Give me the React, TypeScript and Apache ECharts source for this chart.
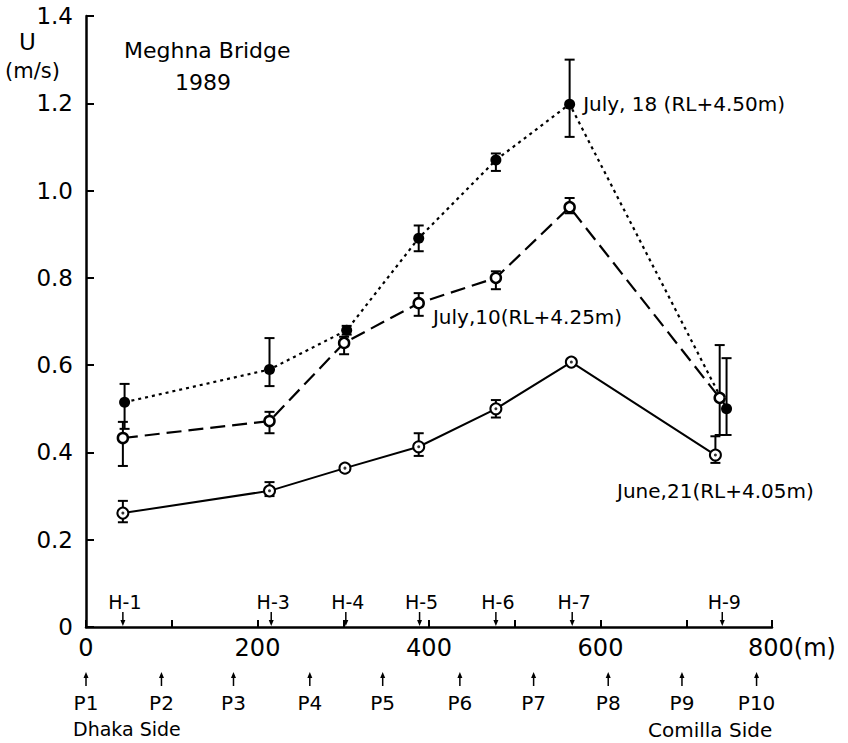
import React, { useEffect, useRef } from "react";
import * as echarts from "echarts";

const FONT = "DejaVu Sans";

// Measuring stations (distance from Dhaka side, m)
const hLabels = ["H-1", "H-3", "H-4", "H-5", "H-6", "H-7", "H-9"];
const hPos = [43, 216, 303, 389, 478, 567, 742];

// Piers
const pLabels = ["P1", "P2", "P3", "P4", "P5", "P6", "P7", "P8", "P9", "P10"];
const pPos = [0, 88, 172, 261, 346, 436, 522, 609, 695, 782];

// July 18 (RL+4.50m)
const x18 = [45, 214, 304, 388, 478, 564, 747];
const u18 = [0.515, 0.59, 0.68, 0.891, 1.07, 1.198, 0.5];
const lo18 = [0.454, 0.552, 0.67, 0.861, 1.045, 1.123, 0.44];
const hi18 = [0.557, 0.662, 0.69, 0.92, 1.085, 1.3, 0.616];

// July 10 (RL+4.25m)
const x10 = [43, 214, 301, 388, 478, 564, 739];
const u10 = [0.433, 0.472, 0.651, 0.742, 0.8, 0.962, 0.525];
const lo10 = [0.369, 0.444, 0.625, 0.713, 0.774, 0.948, 0.44];
const hi10 = [0.47, 0.493, 0.665, 0.765, 0.815, 0.983, 0.646];

// June 21 (RL+4.05m)
const x21 = [43, 214, 302, 388, 478, 566, 734];
const u21 = [0.261, 0.312, 0.364, 0.413, 0.5, 0.607, 0.394];
const lo21 = [0.24, 0.3, null, 0.392, 0.48, null, 0.376];
const hi21 = [0.289, 0.332, null, 0.444, 0.52, null, 0.437];

const label18 = "July, 18 (RL+4.50m)";
const label10 = "July,10(RL+4.25m)";
const label21 = "June,21(RL+4.05m)";

function pairs(xs: number[], ys: number[]) {
  return xs.map((x, i) => [x, ys[i]]);
}

function errData(xs: number[], lo: (number | null)[], hi: (number | null)[]) {
  const out: number[][] = [];
  xs.forEach((x, i) => {
    if (lo[i] != null && hi[i] != null) out.push([x, lo[i] as number, hi[i] as number]);
  });
  return out;
}

export default function App() {
  const ref = useRef<HTMLDivElement>(null);

  useEffect(() => {
    if (!ref.current) return;
    const chart = echarts.init(ref.current, undefined, { renderer: "svg" });

    const errorBars = [...errData(x18, lo18, hi18), ...errData(x10, lo10, hi10), ...errData(x21, lo21, hi21)];

    const withLabel = (xs: number[], ys: number[], idx: number, label: any) =>
      pairs(xs, ys).map((p, i) => (i === idx ? { value: p, label } : { value: p }));

    const option: any = {
      animation: false,
      backgroundColor: "#fff",
      textStyle: { fontFamily: FONT, color: "#000" },
      grid: {
        left: 86,
        right: 76,
        top: 16,
        bottom: 116,
        containLabel: false,
        outerBoundsMode: "none",
      },
      xAxis: {
        type: "value",
        min: 0,
        max: 800,
        interval: 100,
        splitLine: { show: false },
        axisLine: { lineStyle: { color: "#000", width: 2.5 } },
        axisTick: { inside: true, length: 7, lineStyle: { color: "#000", width: 2 } },
        axisLabel: {
          margin: 9,
          fontSize: 24,
          fontFamily: FONT,
          color: "#000",
          formatter: (v: number) => {
            if (v === 800) return "{m|800(m)}";
            return v % 200 === 0 ? String(v) : "";
          },
          rich: {
            m: { fontSize: 24, fontFamily: FONT, color: "#000", padding: [0, 0, 0, 40] },
          },
        },
      },
      yAxis: {
        type: "value",
        min: 0,
        max: 1.4,
        interval: 0.2,
        splitLine: { show: false },
        axisLine: { lineStyle: { color: "#000", width: 2.5 } },
        axisTick: { inside: true, length: 8, lineStyle: { color: "#000", width: 2 } },
        axisLabel: {
          margin: 13,
          fontSize: 23,
          fontFamily: FONT,
          color: "#000",
          formatter: (v: number) => (v === 0 ? "0" : v.toFixed(1)),
        },
      },
      graphic: [
        { type: "text", left: 19, top: 30, style: { text: "U", font: `23px "${FONT}"`, fill: "#000" } },
        { type: "text", left: 5, top: 60, style: { text: "(m/s)", font: `21px "${FONT}"`, fill: "#000" } },
        { type: "text", left: 124, top: 39, style: { text: "Meghna Bridge", font: `22px "${FONT}"`, fill: "#000" } },
        { type: "text", left: 175, top: 71, style: { text: "1989", font: `22px "${FONT}"`, fill: "#000" } },
        { type: "text", left: 73, top: 719, style: { text: "Dhaka Side", font: `19px "${FONT}"`, fill: "#000" } },
        { type: "text", left: 648, top: 720, style: { text: "Comilla Side", font: `20px "${FONT}"`, fill: "#000" } },
      ],
      series: [
        {
          type: "custom",
          name: "error",
          clip: false,
          z: 2,
          encode: { x: 0, y: [1, 2] },
          data: errorBars,
          renderItem: (params: any, api: any) => {
            const x = api.value(0);
            const p1 = api.coord([x, api.value(1)]);
            const p2 = api.coord([x, api.value(2)]);
            const w = 5;
            const st = { stroke: "#000", lineWidth: 2 };
            return {
              type: "group",
              children: [
                { type: "line", shape: { x1: p1[0], y1: p1[1], x2: p2[0], y2: p2[1] }, style: st },
                { type: "line", shape: { x1: p1[0] - w, y1: p1[1], x2: p1[0] + w, y2: p1[1] }, style: st },
                { type: "line", shape: { x1: p2[0] - w, y1: p2[1], x2: p2[0] + w, y2: p2[1] }, style: st },
              ],
            };
          },
        },
        {
          type: "custom",
          name: "stations",
          clip: false,
          encode: { x: 0, y: 1 },
          data: hPos.map((x) => [x, 0]),
          renderItem: (params: any, api: any) => {
            const p = api.coord([api.value(0), 0]);
            const x = p[0];
            const y = p[1];
            return {
              type: "group",
              children: [
                {
                  type: "text",
                  x: x + 2,
                  y: y - 25,
                  style: {
                    text: hLabels[params.dataIndex],
                    font: `19px "${FONT}"`,
                    fill: "#000",
                    textAlign: "center",
                    textVerticalAlign: "middle",
                    align: "center",
                    verticalAlign: "middle",
                  },
                },
                { type: "line", shape: { x1: x, y1: y - 15, x2: x, y2: y - 4 }, style: { stroke: "#000", lineWidth: 1.5 } },
                {
                  type: "polygon",
                  shape: { points: [[x - 2.5, y - 7], [x + 2.5, y - 7], [x, y - 1]] },
                  style: { fill: "#000" },
                },
              ],
            };
          },
        },
        {
          type: "custom",
          name: "piers",
          clip: false,
          encode: { x: 0, y: 1 },
          data: pPos.map((x) => [x, 0]),
          renderItem: (params: any, api: any) => {
            const p = api.coord([api.value(0), 0]);
            const x = p[0];
            const y = p[1];
            return {
              type: "group",
              children: [
                { type: "line", shape: { x1: x, y1: y + 48, x2: x, y2: y + 59 }, style: { stroke: "#000", lineWidth: 1.5 } },
                {
                  type: "polygon",
                  shape: { points: [[x - 2.5, y + 51], [x + 2.5, y + 51], [x, y + 45]] },
                  style: { fill: "#000" },
                },
                {
                  type: "text",
                  x,
                  y: y + 76,
                  style: {
                    text: pLabels[params.dataIndex],
                    font: `20px "${FONT}"`,
                    fill: "#000",
                    textAlign: "center",
                    textVerticalAlign: "middle",
                    align: "center",
                    verticalAlign: "middle",
                  },
                },
              ],
            };
          },
        },
        {
          type: "line",
          name: "July 18",
          z: 4,
          data: withLabel(x18, u18, 5, {
            show: true,
            position: "right",
            distance: 8,
            formatter: label18,
            fontSize: 20,
            fontFamily: FONT,
            color: "#000",
          }),
          symbol: "circle",
          symbolSize: 11,
          itemStyle: { color: "#000" },
          lineStyle: { color: "#000", width: 2.2, type: [3, 4] },
        },
        {
          type: "line",
          name: "July 10",
          z: 4,
          data: withLabel(x10, u10, 3, {
            show: true,
            position: "right",
            distance: 8,
            offset: [0, 14],
            formatter: label10,
            fontSize: 20,
            fontFamily: FONT,
            color: "#000",
          }),
          symbol: "circle",
          symbolSize: 10,
          itemStyle: { color: "#fff", borderColor: "#000", borderWidth: 2.5 },
          lineStyle: { color: "#000", width: 2.2, type: [15, 7] },
        },
        {
          type: "line",
          name: "June 21",
          z: 4,
          data: withLabel(x21, u21, 6, {
            show: true,
            position: "bottom",
            distance: 19,
            formatter: label21,
            fontSize: 20,
            fontFamily: FONT,
            color: "#000",
          }),
          symbol: "circle",
          symbolSize: 11,
          itemStyle: { color: "#fff", borderColor: "#000", borderWidth: 2 },
          lineStyle: { color: "#000", width: 2 },
        },
        {
          type: "scatter",
          name: "June 21 centre",
          z: 5,
          data: pairs(x21, u21),
          symbol: "circle",
          symbolSize: 3,
          itemStyle: { color: "#000" },
        },
      ],
    };

    chart.setOption(option);
    return () => chart.dispose();
  }, []);

  return (
    <div
      ref={ref}
      style={{ position: "absolute", left: 0, top: 0, width: 848, height: 743, background: "#fff" }}
    />
  );
}
